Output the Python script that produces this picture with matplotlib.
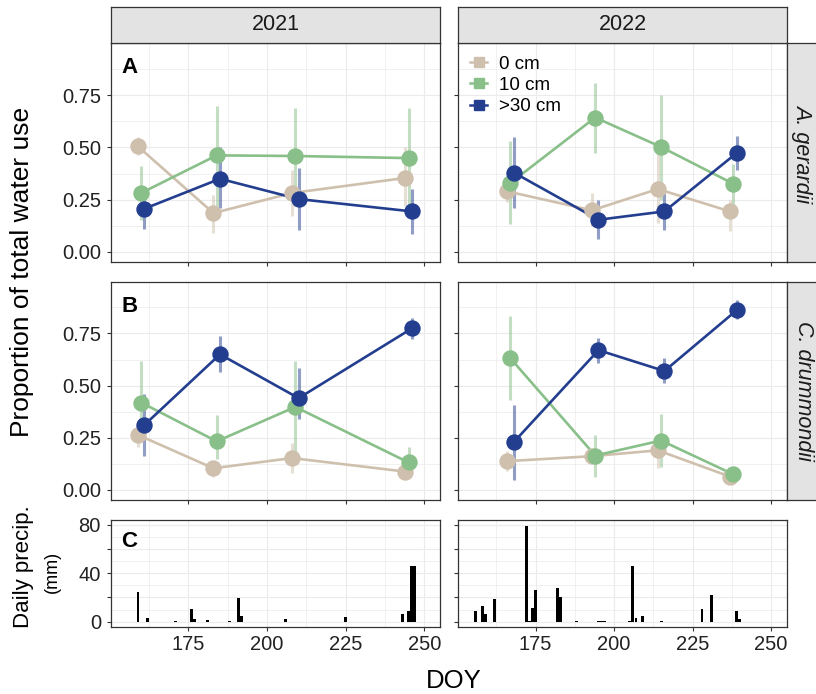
import matplotlib
matplotlib.use("Agg")
import matplotlib.pyplot as plt
from matplotlib.lines import Line2D

plt.rcParams['font.family'] = ['Liberation Sans', 'DejaVu Sans']

# --- data ---
years = ["2021", "2022"]
species = ["A. gerardii", "C. drummondii"]
depths = ["0 cm", "10 cm", ">30 cm"]
panel_tags = ["A", "B", "C"]

doy_2021 = [160, 184, 209, 245]
doy_2022 = [167, 194, 215, 238]

# rows: 0 cm, 10 cm, >30 cm
ag_2021_mean = [[0.505, 0.186, 0.282, 0.354],
                [0.282, 0.462, 0.459, 0.449],
                [0.207, 0.350, 0.253, 0.194]]
ag_2021_low = [[0.465, 0.091, 0.170, 0.218],
               [0.154, 0.218, 0.220, 0.210],
               [0.110, 0.210, 0.103, 0.087]]
ag_2021_high = [[0.549, 0.274, 0.393, 0.502],
                [0.409, 0.699, 0.688, 0.688],
                [0.260, 0.502, 0.401, 0.301]]

ag_2022_mean = [[0.290, 0.199, 0.301, 0.194],
                [0.330, 0.643, 0.502, 0.326],
                [0.380, 0.154, 0.194, 0.473]]
ag_2022_low = [[0.240, 0.122, 0.139, 0.098],
               [0.135, 0.473, 0.250, 0.218],
               [0.210, 0.064, 0.107, 0.390]]
ag_2022_high = [[0.340, 0.282, 0.489, 0.250],
                [0.533, 0.810, 0.751, 0.420],
                [0.549, 0.250, 0.282, 0.556]]

cd_2021_mean = [[0.264, 0.104, 0.153, 0.088],
                [0.419, 0.233, 0.398, 0.132],
                [0.312, 0.650, 0.440, 0.774]]
cd_2021_low = [[0.204, 0.061, 0.081, 0.070],
               [0.270, 0.148, 0.156, 0.100],
               [0.164, 0.565, 0.339, 0.725]]
cd_2021_high = [[0.290, 0.140, 0.223, 0.110],
                [0.618, 0.358, 0.618, 0.204],
                [0.459, 0.737, 0.586, 0.825]]

cd_2022_mean = [[0.138, 0.162, 0.190, 0.064],
                [0.631, 0.165, 0.237, 0.075],
                [0.229, 0.670, 0.570, 0.861]]
cd_2022_low = [[0.090, 0.130, 0.107, 0.050],
               [0.432, 0.064, 0.111, 0.050],
               [0.048, 0.607, 0.512, 0.817]]
cd_2022_high = [[0.186, 0.190, 0.230, 0.080],
                [0.832, 0.265, 0.365, 0.100],
                [0.405, 0.729, 0.631, 0.908]]

precip_2021_doy = [159, 162, 171, 176, 177, 181, 188, 191, 192, 206, 225,
                   243, 245, 246, 247]
precip_2021_mm = [24.8, 2.8, 0.5, 10.5, 2.5, 1.5, 0.5, 19.3, 4.7, 2.0, 3.6,
                  6.3, 8.8, 46.0, 46.0]
precip_2022_doy = [156, 158, 159, 162, 172, 173, 174, 175, 182, 183, 188,
                   195, 196, 197, 205, 206, 207, 209, 215, 228, 231, 239, 240]
precip_2022_mm = [8.8, 13.2, 6.3, 18.7, 79.0, 0.5, 11.6, 26.2, 27.6, 20.7, 0.8,
                  0.3, 0.3, 0.3, 0.5, 46.3, 2.8, 4.7, 0.5, 10.2, 22.0, 8.8, 2.0]

# --- style ---
COLORS = ["#CFC0AE", "#89BF89", "#233E8F"]
DODGE = [-1.05, 0.0, 1.05]
W, H = 816, 694
COLS = [(111, 440), (458.3, 786.7)]
ROWS = [(43.3, 262), (281.7, 500), (520, 626.5)]
BORDER = "#333333"


def box(x0, y0, x1, y1):
    return [x0 / W, 1 - y1 / H, (x1 - x0) / W, (y1 - y0) / H]


def style_axes(ax):
    for s in ax.spines.values():
        s.set_color(BORDER)
        s.set_linewidth(0.9)
    ax.set_axisbelow(True)
    ax.grid(which='major', color='#EBEBEB', lw=0.8)
    ax.grid(which='minor', color='#EBEBEB', lw=0.5)
    ax.tick_params(which='major', length=2.7, width=0.8, color=BORDER,
                   labelsize=14.5, labelcolor='#222222')
    ax.tick_params(which='minor', length=0)
    ax.tick_params(axis='x', pad=3.5)
    ax.tick_params(axis='y', pad=4.5)
    ax.set_xlim(150.4, 255.0)
    ax.set_xticks([175, 200, 225, 250])
    ax.set_xticks([162.5, 187.5, 212.5, 237.5], minor=True)


def strip(fig, rect, label, rotation=0, italic=False, tx=0.5):
    sax = fig.add_axes(rect)
    sax.set_facecolor('#E3E3E3')
    sax.set_xticks([])
    sax.set_yticks([])
    for s in sax.spines.values():
        s.set_color(BORDER)
        s.set_linewidth(0.9)
    sax.text(tx, 0.5, label, transform=sax.transAxes, ha='center',
             va='center', rotation=rotation, fontsize=15.5,
             style='italic' if italic else 'normal', color='#1a1a1a')


def main():
    fig = plt.figure(figsize=(W / 100, H / 100), dpi=100)

    means = [[ag_2021_mean, ag_2022_mean], [cd_2021_mean, cd_2022_mean]]
    lows = [[ag_2021_low, ag_2022_low], [cd_2021_low, cd_2022_low]]
    highs = [[ag_2021_high, ag_2022_high], [cd_2021_high, cd_2022_high]]
    doys = [doy_2021, doy_2022]
    baselines = [0.862, 0.86]

    for r in range(2):
        for c in range(2):
            ax = fig.add_axes(box(COLS[c][0], ROWS[r][0], COLS[c][1], ROWS[r][1]))
            style_axes(ax)
            ax.set_ylim(-0.048, 0.998)
            ax.set_yticks([0, 0.25, 0.5, 0.75])
            ax.set_yticks([0.125, 0.375, 0.625, 0.875], minor=True)
            ax.set_xticklabels([])
            if c == 0:
                ax.set_yticklabels(["0.00", "0.25", "0.50", "0.75"])
                ax.text(0.032, baselines[r], panel_tags[r], transform=ax.transAxes,
                        fontsize=16, fontweight='bold', va='baseline')
            else:
                ax.set_yticklabels([])
            for k in range(3):
                xs = [d + DODGE[k] for d in doys[c]]
                ax.vlines(xs, lows[r][c][k], highs[r][c][k], color=COLORS[k],
                          alpha=0.5, lw=2.2, zorder=2)
                ax.plot(xs, means[r][c][k], color=COLORS[k], lw=1.9, zorder=3)
            for k in range(3):
                xs = [d + DODGE[k] for d in doys[c]]
                ax.plot(xs, means[r][c][k], 'o', color=COLORS[k], ms=10.8,
                        zorder=4)
            if r == 0 and c == 1:
                handles = [Line2D([], [], color=col, marker='s', ms=7, lw=1.8)
                           for col in COLORS]
                ax.legend(handles, depths, loc='upper left',
                          bbox_to_anchor=(0.0, 1.0), frameon=False,
                          fontsize=13.5, handlelength=0.9, handletextpad=0.6,
                          labelspacing=0.23, borderaxespad=0.45, borderpad=0.2)
            if r == 0:
                strip(fig, box(COLS[c][0], 6.7, COLS[c][1], 43.3), years[c])
            if c == 1:
                strip(fig, box(786.7, ROWS[r][0], 823, ROWS[r][1]), species[r],
                      rotation=-90, italic=True, tx=0.45)

    precip = [(precip_2021_doy, precip_2021_mm), (precip_2022_doy, precip_2022_mm)]
    for c in range(2):
        ax = fig.add_axes(box(COLS[c][0], ROWS[2][0], COLS[c][1], ROWS[2][1]))
        style_axes(ax)
        ax.bar(precip[c][0], precip[c][1], width=0.9, color='black', zorder=3)
        ax.set_ylim(-4.0, 84.1)
        ax.set_yticks([0, 20, 40, 60, 80])
        ax.set_yticks([10, 30, 50, 70], minor=True)
        if c == 0:
            ax.set_yticklabels(["0", "", "40", "", "80"])
            ax.text(0.03, 0.744, panel_tags[2], transform=ax.transAxes,
                    fontsize=16, fontweight='bold', va='baseline')
        else:
            ax.set_yticklabels([])

    fig.text(22 / W, 1 - 271.7 / H, 'Proportion of total water use',
             rotation=90, ha='center', va='center', fontsize=19)
    fig.text(23 / W, 1 - 567 / H, 'Daily precip.', rotation=90,
             ha='center', va='center', fontsize=16)
    fig.text(52 / W, 1 - 572 / H, '(mm)', rotation=90, ha='center',
             va='center', fontsize=13)
    fig.text(454 / W, 1 - 688 / H, 'DOY', ha='center', va='baseline',
             fontsize=18.5)

    fig.savefig('out.png', dpi=100)


if __name__ == "__main__":
    main()
